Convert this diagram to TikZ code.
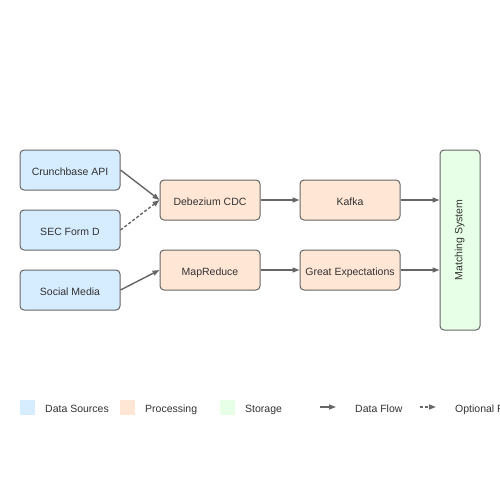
\documentclass[tikz,border=0pt]{standalone}
\usepackage{fontspec}
\setmainfont{Liberation Sans}
\usetikzlibrary{arrows.meta}
\definecolor{srcfill}{HTML}{D6ECFF}
\definecolor{procfill}{HTML}{FFE6D5}
\definecolor{storfill}{HTML}{E6FFE6}
\definecolor{edgegray}{HTML}{666666}
\definecolor{txtgray}{HTML}{333333}
\tikzset{
  box/.style={draw=edgegray, line width=1pt, rounded corners=4pt, minimum width=100pt, minimum height=40pt, inner sep=0pt, font=\fontsize{10.5}{12}\selectfont, text=txtgray, text height=10pt, text depth=0pt},
  src/.style={box, fill=srcfill},
  proc/.style={box, fill=procfill},
  stor/.style={box, fill=storfill},
  flow/.style={draw=edgegray, line width=1.4pt, -{Triangle[length=7pt,width=5pt]}},
  optflow/.style={flow, dashed, dash pattern=on 3pt off 2pt},
  legsq/.style={minimum size=15pt, inner sep=0pt},
  legtxt/.style={anchor=west, inner sep=0pt, font=\fontsize{10.5}{12}\selectfont, text=txtgray, text height=10pt, text depth=0pt},
}
\begin{document}
\begin{tikzpicture}[x=1pt,y=-1pt]
\useasboundingbox[fill=white] (0,0) rectangle (500,500);
\node[src] (crunch) at (70,170) {Crunchbase API};
\node[src] (sec) at (70,230) {SEC Form D};
\node[src] (social) at (70,290) {Social Media};
\node[proc] (deb) at (210,200) {Debezium CDC};
\node[proc] (mapr) at (210,270) {MapReduce};
\node[proc] (kafka) at (350,200) {Kafka};
\node[proc] (ge) at (350,270) {Great Expectations};
\node[stor, minimum width=40pt, minimum height=180pt] (match) at (460,240) {};
\node[font=\fontsize{10.5}{12}\selectfont, text=txtgray, rotate=90, inner sep=0pt, text height=7pt, text depth=2.5pt] (matchlbl) at (match.center) {Matching System};
\draw[flow] (crunch.east) -- (deb.west);
\draw[optflow] (sec.east) -- (deb.west);
\draw[flow] (social.east) -- (mapr.west);
\draw[flow] (deb.east) -- (kafka.west);
\draw[flow] (mapr.east) -- (ge.west);
\draw[flow] (kafka.east) -- (kafka.east -| match.west);
\draw[flow] (ge.east) -- (ge.east -| match.west);
% legend
\node[legsq, fill=srcfill] (l1) at (27.5,407.5) {};
\node[legtxt] (t1) at (45,407) {Data Sources};
\node[legsq, fill=procfill] (l2) at (127.5,407.5) {};
\node[legtxt] (t2) at (145,407) {Processing};
\node[legsq, fill=storfill] (l3) at (227.5,407.5) {};
\node[legtxt] (t3) at (245,407) {Storage};
\coordinate (a1) at (320,407);
\coordinate (a2) at (336,407);
\draw[flow] (a1) -- (a2);
\node[legtxt] (t4) at (355,407) {Data Flow};
\coordinate (b1) at (420,407);
\coordinate (b2) at (436,407);
\draw[optflow] (b1) -- (b2);
\node[legtxt] (t5) at (455,407) {Optional Flow};
\end{tikzpicture}
\end{document}
